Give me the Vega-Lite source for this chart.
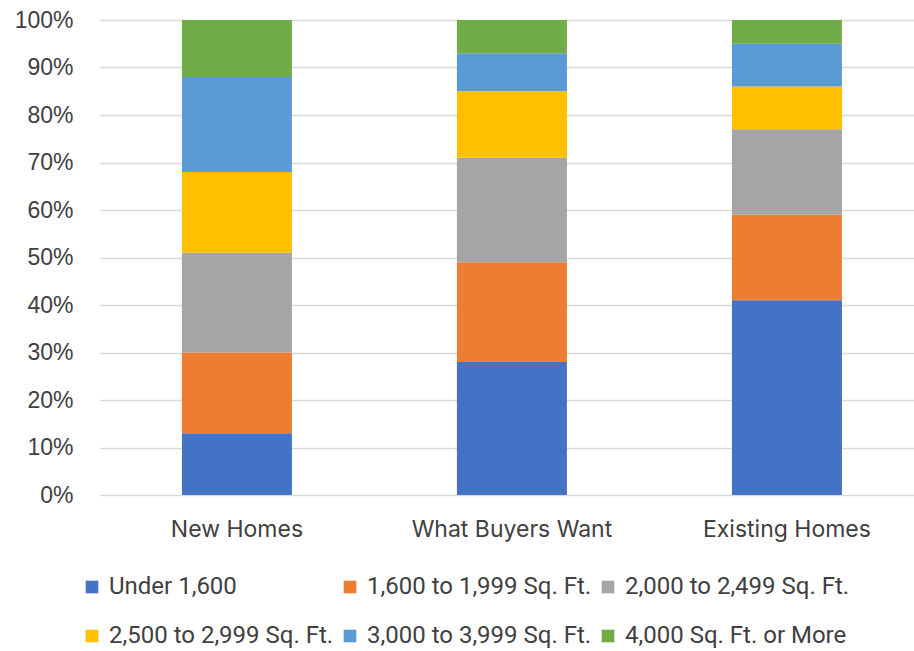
{
  "$schema": "https://vega.github.io/schema/vega-lite/v6.json",
  "autosize": "none",
  "width": 814,
  "height": 475,
  "padding": {"left": 100, "top": 20, "right": 0, "bottom": 156},
  "background": "white",
  "data": {
    "values": [
      {"group": "New Homes", "size": "Under 1,600", "k": 1, "pct": 0.13},
      {"group": "New Homes", "size": "1,600 to 1,999 Sq. Ft.", "k": 2, "pct": 0.17},
      {"group": "New Homes", "size": "2,000 to 2,499 Sq. Ft.", "k": 3, "pct": 0.21},
      {"group": "New Homes", "size": "2,500 to 2,999 Sq. Ft.", "k": 4, "pct": 0.17},
      {"group": "New Homes", "size": "3,000 to 3,999 Sq. Ft.", "k": 5, "pct": 0.20},
      {"group": "New Homes", "size": "4,000 Sq. Ft. or More", "k": 6, "pct": 0.12},
      {"group": "What Buyers Want", "size": "Under 1,600", "k": 1, "pct": 0.28},
      {"group": "What Buyers Want", "size": "1,600 to 1,999 Sq. Ft.", "k": 2, "pct": 0.21},
      {"group": "What Buyers Want", "size": "2,000 to 2,499 Sq. Ft.", "k": 3, "pct": 0.22},
      {"group": "What Buyers Want", "size": "2,500 to 2,999 Sq. Ft.", "k": 4, "pct": 0.14},
      {"group": "What Buyers Want", "size": "3,000 to 3,999 Sq. Ft.", "k": 5, "pct": 0.08},
      {"group": "What Buyers Want", "size": "4,000 Sq. Ft. or More", "k": 6, "pct": 0.07},
      {"group": "Existing Homes", "size": "Under 1,600", "k": 1, "pct": 0.41},
      {"group": "Existing Homes", "size": "1,600 to 1,999 Sq. Ft.", "k": 2, "pct": 0.18},
      {"group": "Existing Homes", "size": "2,000 to 2,499 Sq. Ft.", "k": 3, "pct": 0.18},
      {"group": "Existing Homes", "size": "2,500 to 2,999 Sq. Ft.", "k": 4, "pct": 0.09},
      {"group": "Existing Homes", "size": "3,000 to 3,999 Sq. Ft.", "k": 5, "pct": 0.09},
      {"group": "Existing Homes", "size": "4,000 Sq. Ft. or More", "k": 6, "pct": 0.05}
    ]
  },
  "mark": {"type": "bar"},
  "encoding": {
    "x": {
      "field": "group",
      "type": "nominal",
      "sort": ["New Homes", "What Buyers Want", "Existing Homes"],
      "scale": {"paddingInner": 0.6, "paddingOuter": 0.28, "align": 0.532},
      "axis": {
        "title": null,
        "labelAngle": 0,
        "labelFont": "Inter",
        "labelFontSize": 23,
        "labelColor": "#404040",
        "labelPadding": 23,
        "labelLimit": 400,
        "labelOverlap": false,
        "ticks": false,
        "domain": false,
        "grid": false
      }
    },
    "y": {
      "field": "pct",
      "type": "quantitative",
      "stack": "zero",
      "scale": {"domain": [0, 1], "nice": false},
      "axis": {
        "title": null,
        "format": ".0%",
        "values": [0, 0.1, 0.2, 0.3, 0.4, 0.5, 0.6, 0.7, 0.8, 0.9, 1],
        "labelOverlap": false,
        "labelFont": "Liberation Sans",
        "labelFontSize": 23,
        "labelColor": "#404040",
        "labelPadding": 27,
        "ticks": false,
        "domain": false,
        "grid": true,
        "gridColor": "#d9d9d9",
        "gridWidth": 1.5
      }
    },
    "color": {
      "field": "size",
      "type": "nominal",
      "scale": {
        "domain": ["Under 1,600", "1,600 to 1,999 Sq. Ft.", "2,000 to 2,499 Sq. Ft.", "2,500 to 2,999 Sq. Ft.", "3,000 to 3,999 Sq. Ft.", "4,000 Sq. Ft. or More"],
        "range": ["#4472C4", "#ED7D31", "#A5A5A5", "#FFC000", "#5B9BD5", "#70AD47"]
      },
      "legend": {
        "title": null,
        "orient": "none",
        "legendX": -20,
        "legendY": 555,
        "direction": "horizontal",
        "columns": 3,
        "columnPadding": 4,
        "rowPadding": 25,
        "symbolType": "square",
        "symbolSize": 160,
        "symbolStrokeWidth": 0,
        "labelFont": "Roboto",
        "labelFontSize": 24,
        "labelColor": "#404040",
        "labelOffset": 5,
        "labelLimit": 400
      }
    },
    "order": {"field": "k", "type": "quantitative", "sort": "ascending"}
  },
  "config": {"view": {"stroke": null}}
}
